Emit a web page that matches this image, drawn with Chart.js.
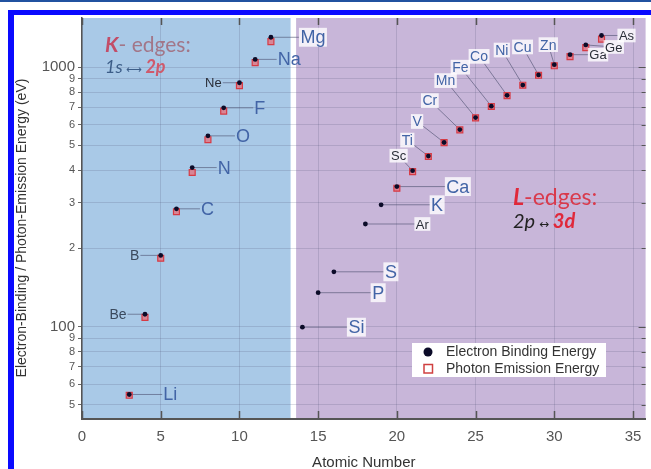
<!DOCTYPE html>
<html lang="en">
<head>
<meta charset="UTF-8">
<title>K- and L-edge energies</title>
<style>
  html, body { margin: 0; padding: 0; background: #fff; }
  #wrap { width: 651px; height: 469px; }
</style>
</head>
<body>
<div id="wrap"><canvas id="edges" width="651" height="469"></canvas></div>
<script src="https://cdn.jsdelivr.net/npm/chart.js"></script>
<script>
// element symbols and atomic numbers
const elements = ['Li', 'Be', 'B', 'C', 'N', 'O', 'F', 'Ne', 'Na', 'Mg',
                  'Si', 'P', 'S', 'Ar', 'K', 'Ca', 'Sc', 'Ti', 'V', 'Cr', 'Mn',
                  'Fe', 'Co', 'Ni', 'Cu', 'Zn', 'Ga', 'Ge', 'As'];
const atomicNumbers = [3, 4, 5, 6, 7, 8, 9, 10, 11, 12,
                       14, 15, 16, 18, 19, 20, 21, 22, 23, 24, 25,
                       26, 27, 28, 29, 30, 31, 32, 33];
// K-edge (Li..Mg) and L3-edge (Si..As) binding energies, eV
const bindingEnergy = [54.7, 111.5, 188, 284.2, 409.9, 543.1, 696.7, 870.2, 1070.8, 1303,
                       99.4, 135, 162.5, 248.4, 294.6, 346.2, 398.7, 453.8, 512.1, 574.1, 638.7,
                       706.8, 778.1, 852.7, 932.7, 1021.8, 1116.4, 1217, 1323.6];
// K-alpha / L-alpha emission energies, eV (null = not plotted)
const emissionEnergy = [54.3, 108.5, 183.3, 277, 392.4, 524.9, 676.8, 848.6, 1041, 1253.6,
                        null, null, null, null, null, 341.3, 395.4, 452.2, 511.3, 572.8, 637.4,
                        705, 776.2, 851.5, 929.7, 1011.7, 1096.7, 1188, 1282];

const xTicks = [0, 5, 10, 15, 20, 25, 30, 35];
const yTicks = [50, 60, 70, 80, 90, 100, 200, 300, 400, 500, 600, 700, 800, 900, 1000];

const FONT = '"Liberation Sans", Arial, sans-serif';
Chart.defaults.font.family = FONT;

// label styles
const BIG = { size: 18, color: '#4264a6' };
const SMALL_BLUE = { size: 14, color: '#4264a6' };
const DARK = { size: 13, color: '#2a2e38' };
const SLATE = { size: 14, color: '#3b4a5e' };

// label offsets (px) from the marker, style and whether a white box sits behind
const labelLayout = {
  Li: [41, 0, BIG, false], Be: [-27, 0, SLATE, false], B: [-26, 0, SLATE, false],
  C: [31, 0, BIG, false], N: [32, 0, BIG, false], O: [35, 0, BIG, false],
  F: [36, 0, BIG, false], Ne: [-26, 0, DARK, false], Na: [34, 0, BIG, false],
  Mg: [42, 0, BIG, true],
  Si: [54, 0, BIG, true], P: [60, 0, BIG, true], S: [57, 0, BIG, true],
  Ar: [57, 0, DARK, true], K: [56, 0, BIG, true], Ca: [61, 0, BIG, true],
  Sc: [-14, -15, DARK, true], Ti: [-21, -16, SMALL_BLUE, true], V: [-27, -21, SMALL_BLUE, true],
  Cr: [-30, -29, SMALL_BLUE, true], Mn: [-30, -37, SMALL_BLUE, true], Fe: [-31, -39, SMALL_BLUE, true],
  Co: [-28, -39, SMALL_BLUE, true], Ni: [-21, -35, SMALL_BLUE, true], Cu: [-16, -28, SMALL_BLUE, true],
  Zn: [-6, -20, SMALL_BLUE, true],
  Ga: [28, 0, DARK, true], Ge: [28, 2, DARK, true], As: [25, 0, DARK, true]
};

// shaded regions behind the K-edge and L-edge groups
const bands = [
  { from: 0, to: 13.25, color: '#a9c9e7' },
  { from: 13.6, to: 35.8, color: '#c8b6d9' }
];

const bindingPoints = atomicNumbers.map((z, i) => ({ x: z, y: bindingEnergy[i] }));
const emissionPoints = atomicNumbers
  .map((z, i) => ({ x: z, y: emissionEnergy[i] }))
  .filter(p => p.y !== null);

function labelBox(ctx, text, style, cx, cy) {
  ctx.font = style.size + 'px ' + FONT;
  const w = ctx.measureText(text).width;
  const h = style.size * 1.05;
  return { w, h, cx, cy };
}

const backdrop = {
  id: 'backdrop',
  beforeDraw(chart) {
    const { ctx, chartArea: a, scales: { x } } = chart;
    ctx.save();
    bands.forEach(b => {
      const x0 = x.getPixelForValue(b.from);
      const x1 = x.getPixelForValue(b.to);
      ctx.fillStyle = b.color;
      ctx.fillRect(x0, a.top, x1 - x0, a.bottom - a.top);
    });
    ctx.restore();
  },
  beforeDatasetsDraw(chart) {
    // leader lines from each marker to its label
    const { ctx } = chart;
    const meta = chart.getDatasetMeta(0);
    ctx.save();
    ctx.strokeStyle = 'rgba(75,78,110,0.6)';
    ctx.lineWidth = 1;
    elements.forEach((el, i) => {
      const [dx, dy, style] = labelLayout[el];
      const pt = meta.data[i];
      const b = labelBox(ctx, el, style, pt.x + dx, pt.y + dy);
      const vx = pt.x - b.cx, vy = pt.y - b.cy;
      const tx = vx !== 0 ? (b.w / 2 + 1) / Math.abs(vx) : Infinity;
      const ty = vy !== 0 ? (b.h / 2) / Math.abs(vy) : Infinity;
      const t = Math.min(tx, ty);
      ctx.beginPath();
      ctx.moveTo(pt.x, pt.y);
      ctx.lineTo(b.cx + vx * t, b.cy + vy * t);
      ctx.stroke();
    });
    ctx.restore();
  },
  afterDatasetsDraw(chart) {
    const { ctx } = chart;
    const meta = chart.getDatasetMeta(0);
    ctx.save();
    ctx.textAlign = 'center';
    ctx.textBaseline = 'middle';
    elements.forEach((el, i) => {
      const [dx, dy, style, boxed] = labelLayout[el];
      const pt = meta.data[i];
      const b = labelBox(ctx, el, style, pt.x + dx, pt.y + dy);
      if (boxed) {
        ctx.fillStyle = 'rgba(255,255,255,0.8)';
        ctx.fillRect(b.cx - b.w / 2 - 1.5, b.cy - b.h / 2, b.w + 3, b.h);
      }
      ctx.fillStyle = style.color;
      ctx.fillText(el, b.cx, b.cy + 1);
    });
    ctx.restore();
  },
  afterDraw(chart) {
    const { ctx, chartArea: a, scales: { x, y } } = chart;
    ctx.save();

    // inward ticks on bottom, top and right edges
    ctx.strokeStyle = '#555';
    ctx.lineWidth = 1.5;
    xTicks.forEach(v => {
      const px = Math.round(x.getPixelForValue(v)) + 0.5;
      ctx.beginPath();
      ctx.moveTo(px, a.bottom); ctx.lineTo(px, a.bottom - 8);
      ctx.moveTo(px, a.top); ctx.lineTo(px, a.top + 7);
      ctx.stroke();
    });
    ctx.lineWidth = 1;
    yTicks.forEach(v => {
      const py = Math.round(y.getPixelForValue(v)) + 0.5;
      const len = (v === 100 || v === 1000) ? 7 : 4;
      ctx.beginPath();
      ctx.moveTo(a.right, py); ctx.lineTo(a.right - len, py);
      ctx.stroke();
    });

    // edge-group headings
    const runs = (px, py, parts) => {
      ctx.textAlign = 'left';
      ctx.textBaseline = 'alphabetic';
      parts.forEach(([t, f, c]) => {
        ctx.font = f; ctx.fillStyle = c;
        ctx.fillText(t, px, py);
        px += ctx.measureText(t).width;
      });
    };
    runs(105, 52, [
      ['K', 'bold italic 21px Lato', '#c24d68'],
      ['- edges:', '21px Lato', '#a27688']
    ]);
    runs(105, 73, [
      ['1s', 'italic 18px Lato', '#3c5d88'],
      [' \u27F7 ', '11px "DejaVu Sans"', '#3c5d88'],
      ['2p', 'bold italic 18px Lato', '#cf5a6c']
    ]);
    runs(513, 205, [
      ['L', 'bold italic 23px Lato', '#e0283a'],
      ['-edges:', '23px Lato', '#d93a4c']
    ]);
    runs(513, 228, [
      ['2p', 'italic 20px Lato', '#222'],
      [' \u2194 ', '12px "DejaVu Sans"', '#222'],
      ['3d', 'bold italic 20px Lato', '#e0283a']
    ]);

    // legend
    ctx.fillStyle = '#fff';
    ctx.fillRect(412, 343, 194, 34);
    ctx.fillStyle = '#0b0b28';
    ctx.beginPath(); ctx.arc(428, 352, 4.5, 0, Math.PI * 2); ctx.fill();
    ctx.strokeStyle = '#d04040'; ctx.lineWidth = 1.5;
    ctx.strokeRect(424, 364.5, 8.5, 8.5);
    ctx.fillStyle = '#333';
    ctx.font = '14px ' + FONT;
    ctx.textBaseline = 'middle';
    ctx.fillText('Electron Binding Energy', 446, 352);
    ctx.fillText('Photon Emission Energy', 446, 369);

    // axis titles
    ctx.textAlign = 'center';
    ctx.fillStyle = '#333';
    ctx.font = '15px ' + FONT;
    ctx.fillText('Atomic Number', (a.left + a.right) / 2, 463);
    ctx.save();
    ctx.translate(22, 228);
    ctx.rotate(-Math.PI / 2);
    ctx.font = '14px ' + FONT;
    ctx.fillText('Electron-Binding / Photon-Emission Energy (eV)', 0, 0);
    ctx.restore();

    // frame
    ctx.fillStyle = '#2152a0';
    ctx.fillRect(0, 0, 651, 2);
    ctx.fillStyle = '#0a0aff';
    ctx.fillRect(8, 10, 643, 5);
    ctx.fillRect(8, 10, 6, 459);
    ctx.restore();
  }
};

new Chart(document.getElementById('edges'), {
  type: 'scatter',
  data: {
    datasets: [
      {
        label: 'Electron Binding Energy',
        data: bindingPoints,
        pointStyle: 'circle',
        pointRadius: 2.4,
        backgroundColor: '#0b0b28',
        borderWidth: 0
      },
      {
        label: 'Photon Emission Energy',
        data: emissionPoints,
        pointStyle: 'rect',
        pointRadius: 4.2,
        backgroundColor: 'rgba(232,110,122,0.75)',
        borderColor: '#d63a44',
        borderWidth: 1.2
      }
    ]
  },
  options: {
    responsive: false,
    animation: false,
    devicePixelRatio: 1,
    layout: { padding: { top: 18, right: 1, left: 0, bottom: 0 } },
    plugins: { legend: { display: false }, tooltip: { enabled: false } },
    scales: {
      x: {
        type: 'linear',
        min: 0,
        max: 35.8,
        afterBuildTicks: scale => { scale.ticks = xTicks.map(v => ({ value: v })); },
        afterFit: scale => { scale.height = 50; },
        grid: { color: 'rgba(80,85,120,0.2)', drawTicks: false },
        border: { color: '#555', width: 2 },
        ticks: { padding: 9, color: '#555', font: { size: 15 } }
      },
      y: {
        type: 'logarithmic',
        min: 44,
        max: 1546,
        afterBuildTicks: scale => { scale.ticks = yTicks.map(v => ({ value: v })); },
        afterFit: scale => { scale.width = 82; },
        grid: { color: 'rgba(80,85,120,0.2)', tickColor: '#666', tickLength: 4 },
        border: { color: '#555', width: 1.5 },
        ticks: {
          padding: 3,
          color: '#555',
          font: ctx => ({ size: (ctx.tick.value === 100 || ctx.tick.value === 1000) ? 15 : 11 }),
          callback: v => {
            if (v === 100 || v === 1000) return String(v);
            return String(Math.round(v / Math.pow(10, Math.floor(Math.log10(v) + 1e-9))));
          }
        }
      }
    }
  },
  plugins: [backdrop]
});
</script>
</body>
</html>
